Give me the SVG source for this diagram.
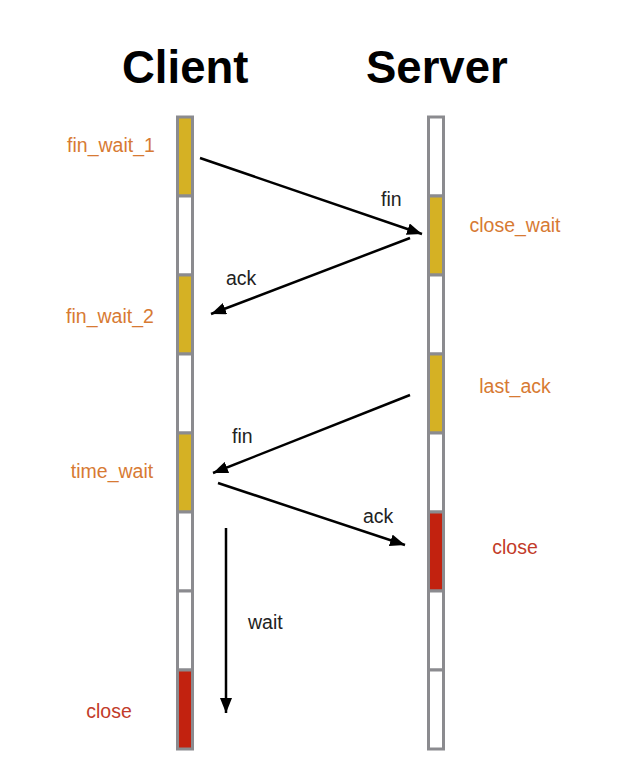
<svg xmlns="http://www.w3.org/2000/svg" width="633" height="782" viewBox="0 0 633 782">
<style>
.seg{stroke:#8b8b8f;stroke-width:3}
.w{fill:#ffffff}
.y{fill:#d5b124}
.r{fill:#c2220f}
.title{font-family:"Liberation Sans",Arial,sans-serif;font-weight:bold;font-size:45.5px;fill:#000}
.st{font-family:"Liberation Sans",Arial,sans-serif;font-size:19.5px;fill:#d77a33;text-anchor:middle}
.cl{font-family:"Liberation Sans",Arial,sans-serif;font-size:19.5px;fill:#c23b2a;text-anchor:middle}
.lb{font-family:"Liberation Sans",Arial,sans-serif;font-size:19.5px;fill:#222}
.arr{stroke:#000;stroke-width:2.5;fill:none;marker-end:url(#ah)}
</style>
<defs>
<marker id="ah" markerUnits="userSpaceOnUse" markerWidth="16" markerHeight="12" refX="15" refY="6" orient="auto">
<path d="M0,0 L15,6 L0,12 Z" fill="#000"/>
</marker>
</defs>
<rect width="633" height="782" fill="#fff"/>
<g id="client">
<text class="title" x="122" y="83">Client</text>
<rect class="seg y" x="177.5" y="117" width="15" height="79"/>
<rect class="seg w" x="177.5" y="196" width="15" height="79"/>
<rect class="seg y" x="177.5" y="275" width="15" height="79"/>
<rect class="seg w" x="177.5" y="354" width="15" height="79"/>
<rect class="seg y" x="177.5" y="433" width="15" height="79"/>
<rect class="seg w" x="177.5" y="512" width="15" height="79"/>
<rect class="seg w" x="177.5" y="591" width="15" height="79"/>
<rect class="seg r" x="177.5" y="670" width="15" height="79"/>
<text class="st" x="111" y="152">fin_wait_1</text>
<text class="st" x="110" y="323">fin_wait_2</text>
<text class="st" x="112" y="478">time_wait</text>
<text class="cl" x="109" y="718">close</text>
</g>
<g id="server">
<text class="title" x="366" y="83">Server</text>
<rect class="seg w" x="428.5" y="117" width="15" height="79"/>
<rect class="seg y" x="428.5" y="196" width="15" height="79"/>
<rect class="seg w" x="428.5" y="275" width="15" height="79"/>
<rect class="seg y" x="428.5" y="354" width="15" height="79"/>
<rect class="seg w" x="428.5" y="433" width="15" height="79"/>
<rect class="seg r" x="428.5" y="512" width="15" height="79"/>
<rect class="seg w" x="428.5" y="591" width="15" height="79"/>
<rect class="seg w" x="428.5" y="670" width="15" height="79"/>
<text class="st" x="515" y="232">close_wait</text>
<text class="st" x="515" y="393">last_ack</text>
<text class="cl" x="515" y="554">close</text>
</g>
<g id="connectors">
<line class="arr" x1="200" y1="158" x2="422" y2="234"/>
<line class="arr" x1="410" y1="238" x2="211" y2="314"/>
<line class="arr" x1="410" y1="395" x2="213" y2="473"/>
<line class="arr" x1="218" y1="483" x2="405" y2="545"/>
<line class="arr" x1="226" y1="528" x2="226" y2="713"/>
<text class="lb" x="381" y="206">fin</text>
<text class="lb" x="226" y="285">ack</text>
<text class="lb" x="232" y="443">fin</text>
<text class="lb" x="363" y="523">ack</text>
<text class="lb" x="248" y="629">wait</text>
</g>
</svg>
